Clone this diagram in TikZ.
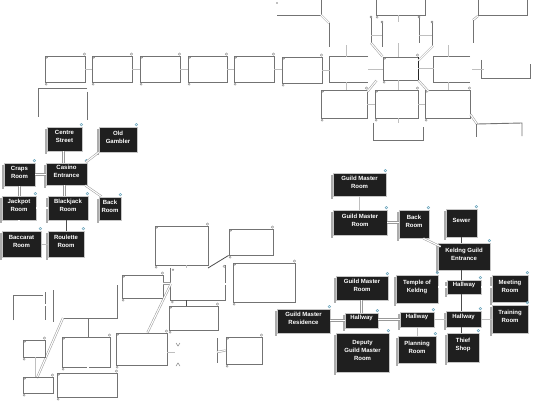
\documentclass[tikz,border=0pt]{standalone}
\usepackage{fontspec}
\setmainfont{Liberation Sans}
\usetikzlibrary{fit}
\tikzset{
 dark/.style={draw=gray!45, line width=0.7pt, fill=black!88, text=white, font=\bfseries\fontsize{6}{8}\selectfont, align=center, inner sep=0pt},
 wfr/.style={draw=black!55, line width=0.9pt, inner sep=0pt},
 pfr/.style={inner sep=0pt},
 wline/.style={draw=black!55, line width=0.9pt},
 dbl/.style={draw=gray!80, double=white, double distance=1.1pt, line width=0.5pt},
 lt/.style={draw=gray!50, line width=0.8pt},
 dk/.style={draw=black!70, line width=0.8pt},
 sbar/.style={draw=gray!65, line width=1.3pt},
 scurl/.style={draw=gray!55!cyan, line width=0.5pt},
 wcurl/.style={draw=black!50, line width=0.4pt},
}
\newcommand\drk[1]{\draw[sbar] ([xshift=-0.6pt,yshift=-2pt]#1.north west) -- ([xshift=-0.6pt,yshift=-3pt]#1.south west);
 \draw[scurl] ([xshift=-1pt,yshift=2pt]#1.north east) circle (1.3pt);}
\newcommand\wdec[1]{\draw[wcurl] ([xshift=-1pt,yshift=1.5pt]#1.north east) circle (1.2pt);
 \draw[wcurl] ([xshift=1.5pt,yshift=-1.8pt]#1.south west) circle (1pt);
 \draw[wcurl] ([xshift=2.2pt,yshift=-2pt]#1.north west) circle (0.9pt);}
\newcommand\dnode[6]{\node[dark, fit={(#2,#3) (#4,#5)}] (#1) {#6};\drk{#1}}
\newcommand\wnode[5]{\node[wfr, fit={(#2,#3) (#4,#5)}] (#1) {};\wdec{#1}}
\newcommand\pnode[5]{\node[pfr, fit={(#2,#3) (#4,#5)}] (#1) {};}
\begin{document}
\begin{tikzpicture}[x=1pt,y=-1pt]
\useasboundingbox[fill=white] (0,0) rectangle (533,400);

% ---------------- top map (empty frames) ----------------
\wnode{A}{45}{56}{85}{82}
\wnode{B}{92}{56}{132}{82}
\wnode{C}{140}{56}{180}{82}
\wnode{D}{188}{56}{227}{82}
\wnode{E}{234}{56}{274}{82}
\wnode{F}{282}{57}{322}{83}
\pnode{G}{330}{57}{368}{82}
\draw[wline] (G.north east) -- (G.north west) -- (G.south west) -- (G.south east);
\wnode{Ctr}{383}{57}{418}{80}
\draw[black!85, line width=1.2pt] (Ctr.north east) -- (Ctr.south east);
\pnode{RC}{434}{57}{470}{82}
\draw[wline] (RC.north east) -- (RC.north west) -- (RC.south west) -- (RC.south east);
\pnode{FR}{482}{60}{530}{78}
\draw[wline] (FR.north west) -- (FR.south west) -- (FR.south east) -- ([yshift=-4pt]FR.south east |- FR.north);
\draw[lt] (A.east) -- (A.east -| B.west);
\draw[lt] (B.east) -- (B.east -| C.west);
\draw[lt] (C.east) -- (C.east -| D.west);
\draw[lt] (D.east) -- (D.east -| E.west);
\draw[lt] (E.east) -- (E.east -| F.west);
\draw[lt] (F.east) -- (F.east -| G.west);
\draw[lt] (G.east) -- (G.east -| Ctr.west);
\draw[lt] (Ctr.east) -- (Ctr.east -| RC.west);
\draw[lt] ([xshift=2pt]RC.east) -- ([xshift=2pt]RC.east -| FR.west);
\draw[lt] ([xshift=-3pt]G.north) -- ++(0,-12);
\draw[lt] ([xshift=-2.5pt]Ctr.north) -- ++(0,-14);
\draw[lt] ([xshift=-4pt]RC.north) -- ++(0,-12);

\pnode{LA}{39}{89}{87}{117}
\draw[wline] ([yshift=-3pt]LA.north east) -- ([yshift=-3pt]LA.south east);
\draw[wline] (LA.north east) -- (LA.north west) -- (LA.south west);

\wnode{LL}{321}{90}{367}{118}
\wnode{CL}{375}{90}{418}{118}
\wnode{RL}{425}{90}{470}{118}
\draw[lt] ([xshift=-3pt]G.south) -- ([xshift=-3pt]G.south |- LL.north);
\draw[lt] ([xshift=-2.5pt]Ctr.south) -- ([xshift=-2.5pt]Ctr.south |- CL.north);
\draw[lt] ([xshift=-4pt]RC.south) -- ([xshift=-4pt]RC.south |- RL.north);
\draw[lt] (LL.east) -- (LL.east -| CL.west);
\draw[lt] (CL.east) -- (CL.east -| RL.west);
\draw[dbl] ([xshift=-6pt]Ctr.south west) -- ([yshift=-2pt]LL.north east);
\draw[dbl] (Ctr.south east) -- ([xshift=4pt,yshift=-2pt]RL.north west);

\pnode{BT}{374}{123}{423}{140}
\draw[wline] (BT.north west) -- (BT.south west) -- (BT.south east) -- ([yshift=-4pt]BT.north east);
\draw[lt] ([xshift=1.5pt]CL.south) -- ([xshift=1.5pt]CL.south |- BT.north);
\coordinate (br1) at (477,124);
\draw[dbl] ([yshift=4pt]RL.south east) -- (br1);
\draw[wline] (br1) -- (522,123) -- (522,136);
\draw[wline] (476,124) -- (476,137);

\wnode{TT}{376}{-3}{425}{15}
\draw[lt] ([xshift=-2.5pt]TT.south) -- ++(0,7);
% stubs above centre
\draw[wline] (371,18) -- (371,43);
\draw[wline] (382,23) -- (382,47);
\draw[lt] (371,35) -- (382,35);
\draw[dbl] (371,43) -- (Ctr.north west);
\draw[wline] (419,18) -- (419,43);
\draw[wline] (432,23) -- (432,47);
\draw[lt] (419,35) -- (432,35);
\draw[lt] (419,35) -- (430,35);
\draw[dbl] (433,46) -- ([yshift=-4pt]Ctr.north east);
\draw[wcurl] (371,17) circle (1pt) (382,22) circle (1pt) (419,17) circle (1pt) (432,22) circle (1pt);
% top-left partial
\draw[wline] (277,15) -- (321,15) -- (321,0);
\draw[dbl] (321,15) -- (329,23);
\draw[wline] (329,23) -- (329,47);
\fill[black!50] (277,3) circle (0.8pt);
% top-right partial
\draw[wline] (478,0) -- (478,15) -- (527,15) -- (527,0);
\draw[dbl] (478,16) -- (473,20);
\draw[wline] (473,20) -- (473,43);

% ---------------- casino ----------------
\dnode{cs}{47}{127}{82}{151}{Centre\\Street}
\dnode{og}{99}{127}{137}{152}{Old\\Gambler}
\dnode{cr}{4}{163}{35}{186}{Craps\\Room}
\dnode{ce}{46}{163}{87}{185}{Casino\\Entrance}
\dnode{jr}{2}{196}{36}{220}{Jackpot\\Room}
\dnode{bj}{48}{196}{88}{220}{Blackjack\\Room}
\dnode{br}{99}{197}{121}{220}{Back\\Room}
\dnode{bc}{2}{231}{41}{257}{Baccarat\\Room}
\dnode{rr}{48}{231}{84}{257}{Roulette\\Room}
\draw[dbl] ([xshift=-1pt]cs.south) -- ([xshift=-1pt]cs.south |- ce.north);
\draw[dbl] (og.south west) -- ([xshift=-2pt]ce.north east);
\draw[dbl] (cr.east) -- (cr.east -| ce.west);
\draw[dbl] ([xshift=-2pt]ce.south) -- ([xshift=-2pt]ce.south |- bj.north);
\draw[dbl] ([xshift=-2pt]ce.south east) -- ([xshift=3pt]br.north west);
\draw[dbl] (cr.south) -- (cr.south |- jr.north);
\draw[dbl] (jr.east) -- (jr.east -| bj.west);
\draw[dbl] (jr.south) -- (jr.south |- bc.north);
\draw[dk] ([xshift=-2pt]bj.south) -- ([xshift=-2pt]bj.south |- rr.north);
\draw[lt] (bc.east) -- (bc.east -| rr.west);

% ---------------- guild ----------------
\dnode{gma}{333}{173}{386}{196}{Guild Master\\Room}
\dnode{gmb}{333}{210}{387}{235}{Guild Master\\Room}
\dnode{gb}{399}{210}{429}{238}{Back\\Room}
\dnode{sw}{446}{209}{477}{237}{Sewer}
\dnode{ge}{438}{243}{490}{270}{Keldng Guild\\Entrance}
\dnode{gmc}{336}{276}{388}{300}{Guild Master\\Room}
\dnode{tk}{396}{275}{438}{303}{Temple of\\Keldng}
\dnode{ha}{447}{280}{481}{294}{Hallway}
\dnode{mr}{492}{275}{528}{302}{Meeting\\Room}
\dnode{res}{277}{309}{330}{333}{Guild Master\\Residence}
\dnode{hb}{345}{313}{378}{328}{Hallway}
\dnode{hc}{400}{312}{434}{327}{Hallway}
\dnode{hd}{446}{311}{481}{327}{Hallway}
\dnode{trn}{492}{305}{528}{333}{Training\\Room}
\dnode{dep}{336}{333}{389}{372}{Deputy\\Guild Master\\Room}
\dnode{pl}{398}{336}{436}{363}{Planning\\Room}
\dnode{ts}{447}{333}{479}{362}{Thief\\Shop}
\draw[lt] (gma.south) -- (gma.south |- gmb.north);
\draw[dbl] (gmb.east) -- (gmb.east -| gb.west);
\draw[dbl] ([xshift=-6pt]gb.south east) -- ([xshift=3pt,yshift=-4pt]ge.north west);
\draw[dk] (sw.south) -- (sw.south |- ge.north);
\draw[dk] (sw.south |- ge.south) -- (sw.south |- ha.north);
\draw[dbl] (ha.west) -- (ha.west -| tk.east);
\draw[dbl] (ha.east) -- (ha.east -| mr.west);
\draw[dk] (sw.south |- ha.south) -- (sw.south |- hd.north);
\draw[dk] (sw.south |- hd.south) -- (sw.south |- ts.north);
\draw[lt] (hd.east) -- (hd.east -| trn.west);
\draw[lt] (hd.west) -- (hd.west -| hc.east);
\draw[lt] (hc.south) -- (hc.south |- pl.north);
\draw[dbl] (hc.west) -- (hc.west -| hb.east);
\draw[dbl] (hb.north) -- (hb.north |- gmc.south);
\draw[dbl] (hb.west) -- (hb.west -| res.east);

% ---------------- lower-left map (empty frames) ----------------
\wnode{H}{155}{226}{208}{265}
\wnode{I}{229}{229}{273}{255}
\wnode{J}{233}{263}{295}{302}
\pnode{K}{171}{268}{225}{300}
\draw[wline] (K.north west) -- (K.south west) -- (K.south east) -- ([yshift=3pt]K.north east);
\wdec{K}
\coordinate (iend) at (208,268);
\draw[dk] (I.south west) -- (iend);
\draw[dbl] (K.east) -- (K.east -| J.west);
\draw[lt] ([xshift=4.5pt]H.south) -- ([xshift=4.5pt]H.south |- K.north);
\wnode{L}{122}{275}{163}{298}
\draw[dbl] ([yshift=3pt]L.east) -- ([yshift=3pt]L.east -| K.west);
\wnode{M}{169}{306}{218}{330}
\draw[dk] ([xshift=-7.5pt]M.north) -- ([xshift=-7.5pt]M.north |- K.south);
\wnode{N}{116}{333}{167}{365}
\draw[dbl] ([xshift=6pt]N.north) -- (K.west);
% partial frame left of L
\coordinate (o1) at (63,318);
\draw[wline] (117,285) -- (117,318) -- (o1);
\wnode{P}{62}{337}{110}{367}
\wnode{Q}{57}{373}{117}{397}
\draw[wline] ([xshift=2pt]P.north) -- ++(0,-19);
\draw[dbl] ([xshift=2pt]P.south) -- ([xshift=2pt]P.south |- Q.north);
\draw[dbl] (o1) -- (37,378);
\wnode{R}{23}{340}{45}{357}
\wnode{S}{23}{377}{53}{393}
\draw[lt] ([xshift=1pt]R.south) -- ([xshift=1pt]R.south |- S.north);
% partial frame T
\draw[wline] (13,320) -- (13,295) -- (43,295);
\draw[wline] (45,292) -- (45,320);
\draw[wline] (53,290) -- (53,322);
\draw[dbl] (45,305) -- (53,305);
% frame U
\wnode{U}{226}{337}{262}{364}
\draw[wline] (217,338) -- (217,363);
\draw[dbl] (217,352) -- (U.west);
% small marks
\draw[lt] (167,352) -- (175,352);
\draw[black!50, line width=0.5pt] (176,343) -- (178,346) -- (180,343) (176,366) -- (178,363) -- (180,366);
\end{tikzpicture}
\end{document}
